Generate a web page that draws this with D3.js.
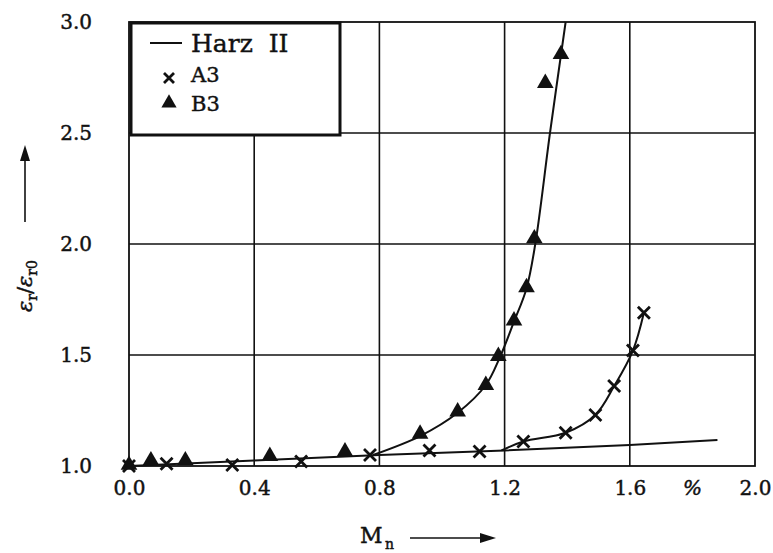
<!DOCTYPE html>
<html>
<head>
<meta charset="utf-8">
<script src="https://cdn.jsdelivr.net/npm/d3@7"></script>
<style>
  html, body { margin: 0; padding: 0; background: #fff; }
  svg { display: block; }
  text { font-family: "DejaVu Serif", "Liberation Serif", serif; fill: #111; stroke: #111; stroke-width: 0.45px; }
</style>
</head>
<body>
<svg id="chart" width="773" height="553"></svg>
<script>
// Measured points: M_n in %, relative strain ε_r/ε_r0
const a3X = [0.0, 0.12, 0.33, 0.55, 0.77, 0.96, 1.12, 1.26, 1.395, 1.49, 1.55, 1.61, 1.645];
const a3Y = [1.0, 1.01, 1.005, 1.02, 1.05, 1.07, 1.065, 1.11, 1.15, 1.23, 1.36, 1.52, 1.69];

const b3X = [0.0, 0.07, 0.18, 0.45, 0.69, 0.93, 1.05, 1.14, 1.18, 1.23, 1.27, 1.295, 1.33, 1.38];
const b3Y = [1.0, 1.02, 1.02, 1.04, 1.06, 1.14, 1.24, 1.36, 1.49, 1.65, 1.80, 2.02, 2.72, 2.85];

// Reference curve Harz II
const harzX = [0.0, 0.4, 0.8, 1.2, 1.6, 1.88];
const harzY = [1.0, 1.025, 1.05, 1.07, 1.095, 1.117];

// Fitted trend curves drawn through the measured series
const a3FitX = [1.19, 1.26, 1.395, 1.49, 1.55, 1.61, 1.645];
const a3FitY = [1.07, 1.11, 1.15, 1.23, 1.36, 1.52, 1.69];
const b3FitX = [0.78, 0.93, 1.05, 1.14, 1.185, 1.23, 1.27, 1.298, 1.345, 1.395];
const b3FitY = [1.05, 1.135, 1.24, 1.365, 1.49, 1.65, 1.80, 2.0, 2.5, 3.0];

const xTicks = [0.0, 0.4, 0.8, 1.2, 1.6, 2.0];
const yTicks = [1.0, 1.5, 2.0, 2.5, 3.0];
const xUnit = "%";
const legendLabels = ["Harz  II", "A3", "B3"];

const svg = d3.select("#chart");
const plotL = 129, plotR = 755, plotT = 22, plotB = 466;

const x = d3.scaleLinear().domain([0, 2.0]).range([plotL, plotR]);
const y = d3.scaleLinear().domain([1.0, 3.0]).range([plotB, plotT]);

const ink = "#111";

// grid
const grid = svg.append("g").attr("stroke", ink).attr("stroke-width", 1.6);
grid.selectAll("line.v").data(xTicks.slice(1, -1)).join("line")
  .attr("class", "v")
  .attr("x1", d => x(d)).attr("x2", d => x(d))
  .attr("y1", plotT).attr("y2", plotB);
grid.selectAll("line.h").data(yTicks.slice(1, -1)).join("line")
  .attr("class", "h")
  .attr("x1", plotL).attr("x2", plotR)
  .attr("y1", d => y(d)).attr("y2", d => y(d));

// frame
svg.append("rect")
  .attr("x", plotL).attr("y", plotT)
  .attr("width", plotR - plotL).attr("height", plotB - plotT)
  .attr("fill", "none").attr("stroke", ink).attr("stroke-width", 1.8);

// axes (labels only)
const xAxis = d3.axisBottom(x).tickValues(xTicks).tickFormat(d3.format(".1f")).tickSize(0).tickPadding(22);
const gx = svg.append("g").attr("transform", `translate(0,${plotB})`).call(xAxis);
gx.select(".domain").remove();
gx.selectAll("text").attr("font-size", 20).attr("font-family", "DejaVu Serif").attr("fill", ink).attr("dy", "0.35em");

const yAxis = d3.axisLeft(y).tickValues(yTicks).tickFormat(d3.format(".1f")).tickSize(0).tickPadding(37);
const gy = svg.append("g").attr("transform", `translate(${plotL},0)`).call(yAxis);
gy.select(".domain").remove();
gy.selectAll("text").attr("font-size", 20).attr("font-family", "DejaVu Serif").attr("fill", ink);

svg.append("text")
  .attr("x", x(1.8)).attr("y", plotB + 22).attr("dy", "0.35em")
  .attr("text-anchor", "middle").attr("font-size", 20).attr("font-style", "italic")
  .text(xUnit);

// axis titles with arrows
const arrowHead = (g, x0, y0, dir) => {
  const pts = dir === "right"
    ? [[x0, y0], [x0 - 16, y0 - 5], [x0 - 16, y0 + 5]]
    : [[x0, y0], [x0 - 5, y0 + 16], [x0 + 5, y0 + 16]];
  g.append("path").attr("d", d3.line()(pts) + "Z").attr("fill", ink);
};

const xt = svg.append("g");
xt.append("text").attr("x", 360).attr("y", 543).attr("font-size", 22).text("M");
xt.append("text").attr("x", 385).attr("y", 549).attr("font-size", 14).text("n");
xt.append("line").attr("x1", 410).attr("x2", 482).attr("y1", 538).attr("y2", 538)
  .attr("stroke", ink).attr("stroke-width", 1.6);
arrowHead(xt, 496, 538, "right");

const yt = svg.append("g").attr("transform", "translate(32,312) rotate(-90)");
const yLabel = yt.append("text").attr("x", 0).attr("y", 0).attr("font-size", 21);
yLabel.append("tspan").attr("font-style", "italic").text("ε");
yLabel.append("tspan").attr("font-size", 14).attr("dy", 5).text("r");
yLabel.append("tspan").attr("dy", -5).text("/");
yLabel.append("tspan").attr("font-style", "italic").text("ε");
yLabel.append("tspan").attr("font-size", 14).attr("dy", 5).text("r0");
svg.append("line").attr("x1", 25).attr("x2", 25).attr("y1", 222).attr("y2", 158)
  .attr("stroke", ink).attr("stroke-width", 1.6);
arrowHead(svg, 25, 145, "up");

// curves
const line = d3.line().x(d => x(d[0])).y(d => y(d[1]));
const curves = svg.append("g").attr("fill", "none").attr("stroke", ink).attr("stroke-width", 2);
curves.append("path").attr("d", line(d3.zip(harzX, harzY)));
const smooth = d3.line().x(d => x(d[0])).y(d => y(d[1])).curve(d3.curveCatmullRom.alpha(0.5));
curves.append("path").attr("d", smooth(d3.zip(a3FitX, a3FitY)));
curves.append("path").attr("d", smooth(d3.zip(b3FitX, b3FitY)));

// markers
const tri = d3.symbol().type(d3.symbolTriangle).size(120);
const cross = (cx, cy, r) => `M${cx - r},${cy - r}L${cx + r},${cy + r}M${cx - r},${cy + r}L${cx + r},${cy - r}`;

svg.append("g").selectAll("path").data(d3.zip(b3X, b3Y)).join("path")
  .attr("d", tri).attr("fill", ink)
  .attr("transform", d => `translate(${x(d[0])},${y(d[1]) - 1})`);

svg.append("g").selectAll("path").data(d3.zip(a3X, a3Y)).join("path")
  .attr("d", d => cross(x(d[0]), y(d[1]), 6))
  .attr("stroke", ink).attr("stroke-width", 2.8).attr("fill", "none");

// legend
const lg = svg.append("g");
lg.append("rect").attr("x", 131).attr("y", 23).attr("width", 209).attr("height", 112)
  .attr("fill", "#fff").attr("stroke", ink).attr("stroke-width", 3);
lg.append("line").attr("x1", 150).attr("x2", 182).attr("y1", 43).attr("y2", 43)
  .attr("stroke", ink).attr("stroke-width", 2);
lg.append("text").attr("x", 191).attr("y", 52).attr("font-size", 25).attr("xml:space", "preserve").text(legendLabels[0]);
lg.append("path").attr("d", cross(169, 78, 5)).attr("stroke", ink).attr("stroke-width", 2.8);
lg.append("text").attr("x", 191).attr("y", 82).attr("font-size", 21).text(legendLabels[1]);
lg.append("path").attr("d", d3.symbol().type(d3.symbolTriangle).size(100)).attr("fill", ink).attr("transform", "translate(169,103)");
lg.append("text").attr("x", 191).attr("y", 111).attr("font-size", 21).text(legendLabels[2]);
</script>
</body>
</html>
